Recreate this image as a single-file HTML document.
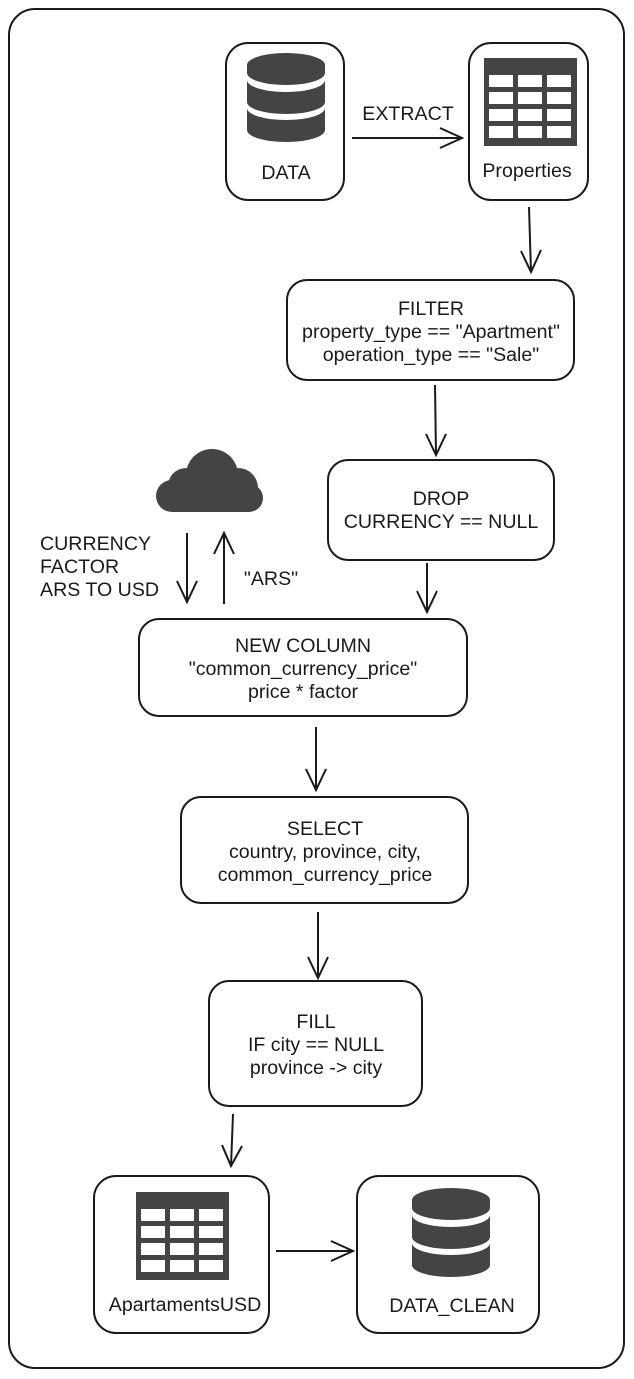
<!DOCTYPE html>
<html><head><style>body{margin:0;background:#fff}svg{display:block}text{font-family:"Liberation Sans",Arial,sans-serif;font-size:19.6px;fill:#1a1a1a}</style></head>
<body>
<svg width="634" height="1379" viewBox="0 0 634 1379" xmlns="http://www.w3.org/2000/svg">
<defs>
<g id="db">
<path d="M0,12 a39,12 0 0 1 78,0 v8 a39,12 0 0 1 -78,0z" fill="#444"/>
<path d="M0,27 a39,12 0 0 0 78,0 v22 a39,12 0 0 1 -78,0z" fill="#444"/>
<path d="M0,55 a39,12 0 0 0 78,0 v22 a39,12 0 0 1 -78,0z" fill="#444"/>
</g>
<g id="tbl">
<rect x="0" y="0" width="93" height="88" fill="#444"/>
<g fill="#fff">
<rect x="5" y="17" width="24" height="12"/><rect x="34" y="17" width="24" height="12"/><rect x="63" y="17" width="24" height="12"/>
<rect x="5" y="34" width="24" height="12"/><rect x="34" y="34" width="24" height="12"/><rect x="63" y="34" width="24" height="12"/>
<rect x="5" y="51" width="24" height="12"/><rect x="34" y="51" width="24" height="12"/><rect x="63" y="51" width="24" height="12"/>
<rect x="5" y="68" width="24" height="12"/><rect x="34" y="68" width="24" height="12"/><rect x="63" y="68" width="24" height="12"/>
</g>
</g>
</defs>
<g fill="none" stroke="#1a1a1a" stroke-width="2">
<rect x="9" y="9" width="615" height="1359" rx="26"/>
<rect x="226" y="43" width="118" height="157" rx="22"/>
<rect x="469" y="43" width="119" height="157" rx="22"/>
<rect x="287" y="280" width="287" height="100" rx="20"/>
<rect x="328" y="460" width="226" height="100" rx="20"/>
<rect x="139" y="619" width="328" height="97" rx="20"/>
<rect x="181" y="797" width="287" height="106" rx="20"/>
<rect x="209" y="981" width="213" height="125" rx="20"/>
<rect x="94" y="1176" width="175" height="157" rx="22"/>
<rect x="357" y="1176" width="182" height="157" rx="22"/>
<path d="M352,138 H462 M440,128 L462,138 L440,148"/>
<path d="M529,207 L531,272 M521,251 L531,272 L541,250"/>
<path d="M435,385 L436,455 M426,434 L436,455 L446,434"/>
<path d="M427,563 L427,612 M417,591 L427,612 L437,591"/>
<path d="M187,533 L187,602 M177,581 L187,602 L197,581"/>
<path d="M224,604 L224,533 M214,554 L224,533 L234,554"/>
<path d="M316,727 L316,790 M306,769 L316,790 L326,769"/>
<path d="M318,912 L318,978 M308,957 L318,978 L328,957"/>
<path d="M233,1114 L231,1166 M222,1145 L231,1166 L242,1146"/>
<path d="M276,1251 H353 M331,1241 L353,1251 L331,1261"/>
</g>
<use href="#db" x="247" y="53"/>
<use href="#db" x="412" y="1188"/>
<use href="#tbl" x="484" y="58"/>
<use href="#tbl" x="136" y="1192"/>
<g fill="#444">
<circle cx="212" cy="475" r="26"/>
<circle cx="238" cy="488" r="20"/>
<circle cx="186" cy="486" r="18"/>
<rect x="172" y="486" width="78" height="26"/>
<circle cx="172" cy="496" r="16"/>
<circle cx="249" cy="498" r="14"/>
</g>
<g text-anchor="middle">
<text x="286" y="179">DATA</text>
<text x="527" y="177">Properties</text>
<text x="408" y="120">EXTRACT</text>
<text x="431" y="315">FILTER</text>
<text x="431" y="338">property_type == "Apartment"</text>
<text x="431" y="361">operation_type == "Sale"</text>
<text x="441" y="505">DROP</text>
<text x="441" y="528">CURRENCY == NULL</text>
<text x="303" y="652">NEW COLUMN</text>
<text x="303" y="675">"common_currency_price"</text>
<text x="303" y="698">price * factor</text>
<text x="325" y="835">SELECT</text>
<text x="325" y="858">country, province, city,</text>
<text x="325" y="881">common_currency_price</text>
<text x="316" y="1028">FILL</text>
<text x="316" y="1051">IF city == NULL</text>
<text x="316" y="1074">province -&gt; city</text>
<text x="185" y="1311">ApartamentsUSD</text>
<text x="452" y="1312">DATA_CLEAN</text>
<text x="271" y="585">"ARS"</text>
</g>
<text x="40" y="550">CURRENCY</text>
<text x="40" y="573">FACTOR</text>
<text x="40" y="596">ARS TO USD</text>
</svg>
</body></html>
